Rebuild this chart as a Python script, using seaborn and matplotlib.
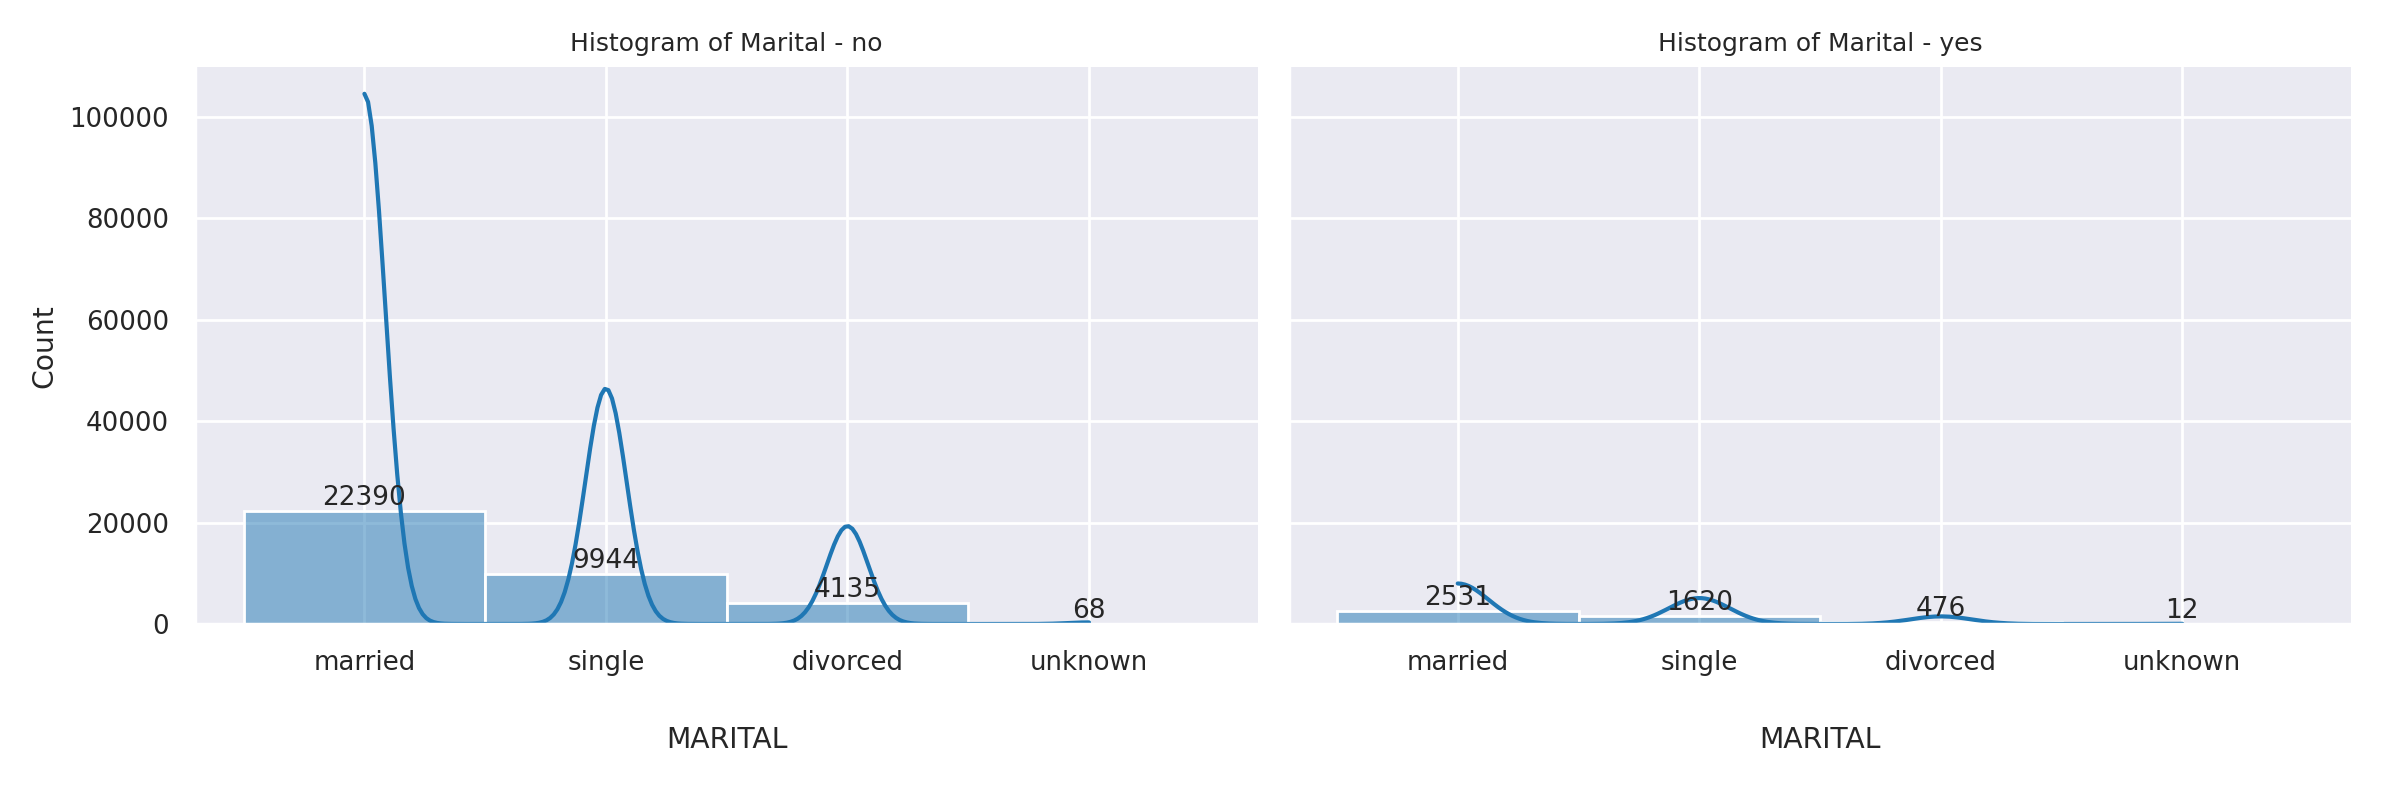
import numpy as np
import pandas as pd
import seaborn as sns
import matplotlib.pyplot as plt

sns.set_theme(style="darkgrid", font_scale=0.85)

categories = ["married", "single", "divorced", "unknown"]
counts_no = [22390, 9944, 4135, 68]
counts_yes = [2531, 1620, 476, 12]

codes = np.concatenate([np.repeat(np.arange(4), counts_no), np.repeat(np.arange(4), counts_yes)])
groups = ["no"] * sum(counts_no) + ["yes"] * sum(counts_yes)
df = pd.DataFrame({"marital": codes, "y": groups})

g = sns.displot(data=df, x="marital", col="y", kde=True, discrete=True, color="tab:blue",
                height=3.925, aspect=1.5, facet_kws={"sharey": True})
g.fig.set_size_inches(11.91, 3.925)

for ax, name in zip(g.axes.flat, ["no", "yes"]):
    ax.set_title(f"Histogram of Marital - {name}", fontsize=9)
    ax.set_xticks(range(4))
    ax.set_xticklabels(categories)
    ax.set_xlabel("MARITAL", labelpad=18)
    for c in ax.containers:
        ax.bar_label(c, fontsize=9.5)
g.axes.flat[0].set_ylabel("Count")

plt.tight_layout()
plt.savefig("out.png", dpi=200)
